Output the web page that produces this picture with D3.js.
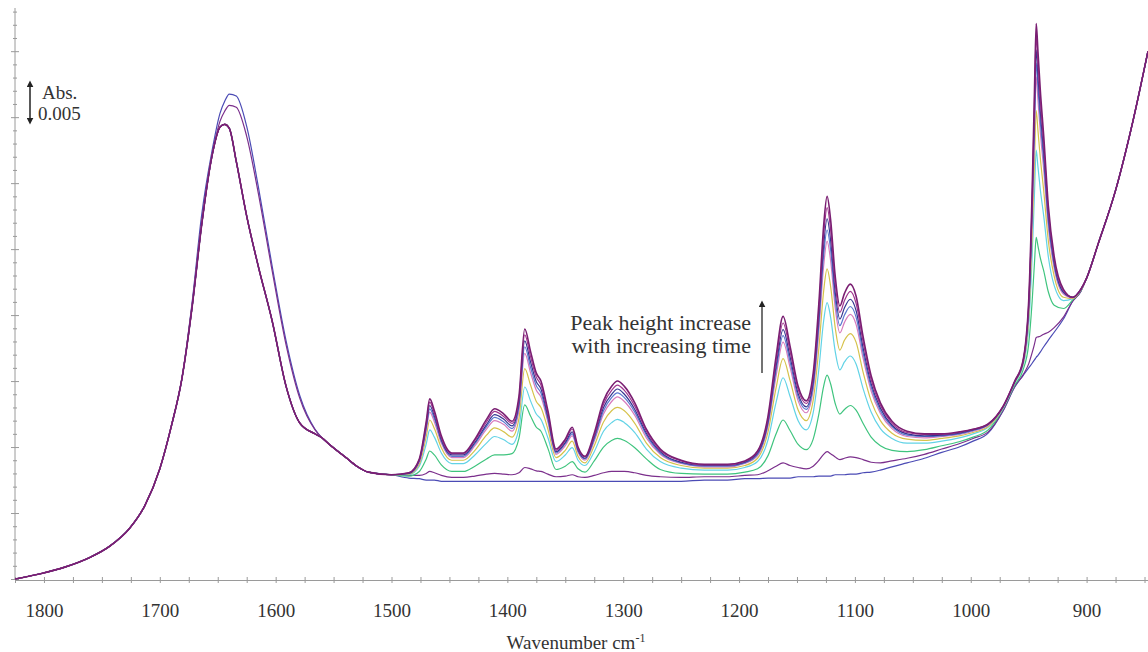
<!DOCTYPE html>
<html>
<head>
<meta charset="utf-8">
<script src="https://cdn.jsdelivr.net/npm/d3@7"></script>
<style>
  body { margin: 0; background: #fff; }
  text { font-family: "Liberation Serif", "DejaVu Serif", serif; fill: #333; }
</style>
</head>
<body>
<div id="chart"></div>
<script>
var svgWidth = 1148;
var svgHeight = 652;

// absorbance values in mAbs, wavenumbers in cm-1

// water bending band, shared by the later spectra
var waterNu = [1825, 1803, 1782, 1760, 1743, 1726, 1713, 1700, 1690, 1681, 1672, 1664, 1655, 1648,
  1644, 1640, 1634, 1625, 1615, 1603, 1591, 1579, 1566, 1560, 1553, 1540, 1530, 1520];
var waterBulk = [0.0, 0.8, 1.8, 3.3, 5.0, 7.7, 11.1, 16.7, 23.2, 30.3, 41.4, 53.5, 64.1, 68.5,
  68.9, 68.3, 63.3, 55.0, 47.4, 39.1, 29.2, 23.6, 22.0, 21.4, 20.3, 18.5, 17.1, 16.2];
var waterStart = [0.0, 0.8, 1.8, 3.3, 5.0, 7.7, 11.1, 16.7, 23.2, 30.3, 42.1, 55.0, 64.8, 70.6,
  72.4, 73.5, 73.2, 68.6, 59.5, 47.4, 36.1, 27.7, 22.7, 21.4, 20.3, 18.5, 17.1, 16.2];
var waterFirst = [0.0, 0.8, 1.8, 3.3, 5.0, 7.7, 11.1, 16.7, 23.2, 30.3, 41.8, 53.9, 64.1, 69.4,
  70.9, 71.8, 71.5, 67.1, 58.5, 46.7, 35.5, 27.3, 22.6, 21.4, 20.3, 18.5, 17.1, 16.2];

// fingerprint region where the bands grow with time
var bandNu = [1500, 1485, 1476, 1470, 1467, 1463, 1457, 1448, 1438, 1428, 1418, 1411, 1403, 1396, 1390,
  1385, 1380, 1375, 1371, 1365, 1358, 1350, 1344, 1339, 1333, 1325, 1317, 1310, 1305, 1299,
  1290, 1280, 1268, 1250, 1230, 1210, 1195, 1184, 1175, 1168, 1162, 1156, 1149, 1142, 1136,
  1131, 1127, 1124, 1121, 1117, 1113, 1109, 1104, 1099, 1093, 1086, 1078, 1068, 1055, 1040,
  1025, 1010, 998, 985, 972, 962, 955, 950, 947, 945, 943.5, 942, 940, 937, 933,
  928, 920, 912, 905];

var band0 = [15.8, 15.3, 15.2, 15.0, 15.0, 15.0, 14.8, 14.8, 14.8, 14.8, 14.8, 14.8, 14.8, 14.8, 14.8,
  14.8, 14.8, 14.8, 14.8, 14.8, 14.8, 14.8, 14.8, 14.8, 14.8, 14.8, 14.8, 14.8, 14.8, 14.8,
  14.8, 14.8, 14.8, 14.8, 15.0, 15.0, 15.2, 15.2, 15.3, 15.3, 15.3, 15.3, 15.5, 15.5, 15.5,
  15.6, 15.6, 15.6, 15.6, 15.8, 15.8, 15.8, 15.9, 15.9, 16.1, 16.2, 16.5, 17.0, 17.6, 18.3,
  19.2, 20.0, 20.9, 22.1, 25.5, 29.1, 30.8, 32.0, 32.7, 33.2, 33.6, 33.9, 34.4, 35.2, 36.2,
  37.4, 39.4, 42.1, 43.6];
var band1 = [15.8, 15.7, 15.7, 16.0, 16.3, 16.1, 15.7, 15.4, 15.4, 15.6, 15.9, 16.0, 15.9, 15.8, 16.1,
  16.9, 16.7, 16.4, 16.3, 15.9, 15.5, 15.6, 15.8, 15.5, 15.4, 15.7, 16.1, 16.3, 16.3, 16.3,
  16.1, 15.7, 15.5, 15.4, 15.5, 15.5, 15.7, 15.8, 16.4, 17.1, 17.6, 17.2, 16.9, 16.7, 17.1,
  18.0, 18.9, 19.3, 19.0, 18.5, 18.1, 18.3, 18.5, 18.4, 18.1, 17.7, 17.6, 17.9, 18.3, 18.9,
  19.7, 20.5, 21.3, 22.3, 25.6, 29.2, 30.9, 32.6, 34.3, 35.6, 36.6, 36.7, 36.8, 37.1, 37.4,
  38.1, 39.7, 42.1, 43.6];
var band2 = [15.8, 15.6, 16.3, 18.2, 19.4, 18.8, 17.3, 16.3, 16.3, 17.1, 18.2, 18.8, 18.8, 19.0, 21.3,
  26.4, 24.7, 23.0, 22.4, 19.8, 16.6, 17.1, 17.8, 16.7, 16.2, 17.9, 20.0, 21.0, 21.3, 21.0,
  19.9, 18.2, 16.6, 16.0, 15.9, 15.9, 16.2, 16.7, 18.7, 22.0, 24.1, 22.5, 20.4, 19.6, 21.2,
  25.1, 29.2, 30.9, 29.6, 26.6, 25.0, 25.7, 26.3, 25.6, 23.6, 21.5, 20.2, 19.5, 19.3, 19.6,
  20.2, 20.8, 21.5, 22.6, 25.8, 29.4, 31.6, 35.6, 42.1, 47.9, 51.8, 50.5, 48.7, 46.7, 43.5,
  41.5, 41.0, 42.3, 43.7];
var band3 = [15.8, 15.8, 17.1, 20.5, 22.6, 21.5, 19.1, 17.5, 17.5, 18.8, 20.6, 21.6, 21.1, 20.4, 22.8,
  29.1, 27.0, 25.0, 24.2, 21.4, 17.8, 18.8, 19.9, 18.0, 17.2, 19.3, 22.4, 23.7, 24.2, 23.7,
  22.2, 19.7, 17.8, 16.8, 16.5, 16.5, 16.9, 17.8, 21.1, 26.8, 30.5, 27.7, 24.0, 22.6, 25.2,
  32.0, 39.1, 41.9, 39.7, 34.5, 31.7, 32.9, 33.8, 32.6, 28.9, 25.3, 22.8, 21.3, 20.6, 20.6,
  20.9, 21.4, 22.0, 23.0, 25.9, 29.7, 32.2, 38.3, 48.9, 58.4, 65.0, 62.5, 59.1, 55.0, 48.8,
  44.5, 42.2, 42.5, 43.8];
var band4 = [15.8, 15.9, 17.4, 21.6, 24.1, 22.8, 19.9, 18.0, 18.0, 19.5, 21.8, 22.9, 22.3, 21.5, 24.3,
  31.9, 29.4, 26.9, 26.0, 22.7, 18.4, 19.5, 20.9, 18.6, 17.6, 20.2, 23.8, 25.5, 26.0, 25.5,
  23.6, 20.6, 18.4, 17.2, 16.8, 16.8, 17.2, 18.3, 22.3, 29.0, 33.4, 30.1, 25.6, 24.0, 27.1,
  35.2, 43.6, 47.0, 44.4, 38.1, 34.7, 36.2, 37.2, 35.9, 31.4, 27.0, 24.0, 22.1, 21.2, 21.0,
  21.3, 21.7, 22.2, 23.1, 26.0, 29.8, 32.4, 39.5, 52.0, 63.3, 71.0, 68.0, 63.9, 58.8, 51.2,
  45.9, 42.7, 42.5, 43.8];
var band5 = [15.8, 16.0, 17.7, 22.5, 25.3, 23.8, 20.6, 18.4, 18.4, 20.2, 22.7, 24.0, 23.4, 22.4, 25.6,
  34.2, 31.3, 28.6, 27.6, 23.8, 18.9, 20.2, 21.7, 19.2, 18.0, 20.9, 25.0, 26.9, 27.6, 26.9,
  24.8, 21.4, 18.9, 17.5, 17.0, 17.0, 17.5, 18.7, 23.2, 30.8, 35.9, 32.1, 27.0, 25.2, 28.7,
  37.9, 47.4, 51.2, 48.3, 41.1, 37.3, 38.9, 40.1, 38.6, 33.5, 28.5, 25.1, 22.8, 21.6, 21.4,
  21.6, 21.9, 22.4, 23.3, 26.1, 29.9, 32.6, 40.5, 54.6, 67.4, 76.1, 72.6, 67.8, 62.0, 53.3,
  47.1, 43.2, 42.6, 43.9];
var band6 = [15.8, 16.0, 17.9, 22.9, 25.8, 24.3, 20.9, 18.6, 18.6, 20.5, 23.1, 24.5, 23.8, 22.8, 26.2,
  35.2, 32.1, 29.3, 28.2, 24.2, 19.1, 20.5, 22.0, 19.4, 18.2, 21.2, 25.5, 27.5, 28.2, 27.5,
  25.3, 21.8, 19.1, 17.6, 17.1, 17.1, 17.6, 18.9, 23.6, 31.6, 36.9, 32.9, 27.6, 25.7, 29.3,
  39.0, 49.0, 52.9, 49.9, 42.3, 38.4, 40.0, 41.3, 39.7, 34.3, 29.1, 25.5, 23.1, 21.8, 21.6,
  21.7, 22.0, 22.5, 23.4, 26.1, 29.9, 32.7, 40.9, 55.7, 69.0, 78.2, 74.5, 69.4, 63.3, 54.1,
  47.6, 43.4, 42.7, 43.9];
var band7 = [15.8, 16.0, 18.0, 23.2, 26.3, 24.7, 21.1, 18.8, 18.8, 20.7, 23.4, 24.9, 24.2, 23.2, 26.7,
  36.1, 32.9, 29.9, 28.8, 24.6, 19.3, 20.7, 22.3, 19.6, 18.3, 21.5, 26.0, 28.0, 28.8, 28.0,
  25.7, 22.1, 19.3, 17.7, 17.2, 17.2, 17.7, 19.1, 23.9, 32.3, 37.8, 33.7, 28.1, 26.1, 29.9,
  40.0, 50.5, 54.6, 51.4, 43.5, 39.4, 41.1, 42.4, 40.7, 35.1, 29.6, 25.9, 23.3, 22.0, 21.7,
  21.8, 22.1, 22.6, 23.4, 26.1, 29.9, 32.8, 41.3, 56.7, 70.6, 80.2, 76.3, 71.0, 64.5, 54.9,
  48.0, 43.5, 42.7, 43.9];
var band8 = [15.8, 16.1, 18.1, 23.6, 26.8, 25.1, 21.4, 19.0, 19.0, 21.0, 23.8, 25.4, 24.6, 23.6, 27.2,
  37.0, 33.7, 30.6, 29.4, 25.1, 19.5, 21.0, 22.7, 19.8, 18.5, 21.8, 26.5, 28.6, 29.4, 28.6,
  26.2, 22.4, 19.5, 17.9, 17.3, 17.3, 17.8, 19.3, 24.3, 33.1, 38.8, 34.5, 28.7, 26.6, 30.6,
  41.1, 52.0, 56.3, 53.0, 44.7, 40.4, 42.2, 43.6, 41.8, 36.0, 30.2, 26.3, 23.6, 22.2, 21.9,
  21.9, 22.2, 22.7, 23.5, 26.2, 30.0, 32.9, 41.7, 57.8, 72.3, 82.2, 78.2, 72.6, 65.8, 55.7,
  48.5, 43.7, 42.7, 43.9];
var band9 = [15.8, 16.1, 18.2, 23.9, 27.3, 25.5, 21.7, 19.1, 19.1, 21.2, 24.2, 25.8, 25.0, 23.9, 27.7,
  37.9, 34.5, 31.2, 30.0, 25.5, 19.7, 21.2, 23.0, 20.0, 18.6, 22.1, 27.0, 29.2, 30.0, 29.2,
  26.7, 22.7, 19.7, 18.0, 17.4, 17.4, 17.9, 19.4, 24.7, 33.8, 39.8, 35.3, 29.2, 27.0, 31.2,
  42.1, 53.5, 58.0, 54.5, 45.9, 41.4, 43.3, 44.7, 42.9, 36.8, 30.8, 26.7, 23.9, 22.4, 22.0,
  22.0, 22.3, 22.7, 23.5, 26.2, 30.0, 33.0, 42.1, 58.8, 73.9, 84.2, 80.0, 74.2, 67.1, 56.5,
  48.9, 43.9, 42.7, 43.9];

// steep rise at the low wavenumber end, same for all spectra
var tailNu = [900, 890, 875, 860, 847];
var tailAbs = [45.6, 50.8, 58.9, 69.4, 80.0];

var bandSeries = [band0, band1, band2, band3, band4, band5, band6, band7, band8, band9];
var waterSeries = [waterStart, waterFirst, waterBulk, waterBulk, waterBulk, waterBulk, waterBulk,
  waterBulk, waterBulk, waterBulk];
var seriesColors = ["#4b4bb5", "#7b2f8c", "#3fc47e", "#62d3e6", "#d6c24a", "#d77bbd", "#5a78d0",
  "#34348f", "#a0358f", "#7a1e72"];

var xTicks = [1800, 1700, 1600, 1500, 1400, 1300, 1200, 1100, 1000, 900];

var spectra = bandSeries.map(function(band, i) {
  var pts = [];
  waterNu.forEach(function(nu, j) { pts.push({ nu: nu, a: waterSeries[i][j] }); });
  bandNu.forEach(function(nu, j) { pts.push({ nu: nu, a: band[j] }); });
  tailNu.forEach(function(nu, j) { pts.push({ nu: nu, a: tailAbs[j] }); });
  return pts;
});

var svg = d3.select("#chart")
  .append("svg")
  .attr("width", svgWidth)
  .attr("height", svgHeight);

var x = d3.scaleLinear().domain([1825, 847]).range([15, 1148]);
var y = d3.scaleLinear().domain([0, 87]).range([579, 5]);

var line = d3.line()
  .x(function(d) { return x(d.nu); })
  .y(function(d) { return y(d.a); })
  .curve(d3.curveMonotoneX);

// x axis with crossing ticks
var xAxis = svg.append("g")
  .attr("transform", "translate(0,580)")
  .call(d3.axisBottom(x)
    .tickValues(d3.range(850, 1826, 25))
    .tickSizeOuter(0)
    .tickSize(3)
    .tickPadding(21)
    .tickFormat(function(d) { return xTicks.indexOf(d) >= 0 ? d : ""; }));
xAxis.select(".domain").attr("stroke", "#9a9a9a");
xAxis.selectAll(".tick line").attr("y1", -3).attr("stroke", "#9a9a9a");
xAxis.selectAll(".tick text")
  .style("font-family", "'Liberation Serif', serif")
  .style("font-size", "19px")
  .attr("fill", "#333");

// y axis, unlabelled
var yAxis = svg.append("g")
  .attr("transform", "translate(15,0)")
  .call(d3.axisLeft(y)
    .tickValues(d3.range(0, 87, 2))
    .tickSizeOuter(0)
    .tickFormat(""));
yAxis.select(".domain").attr("stroke", "#9a9a9a").attr("d", "M0,580V8");
yAxis.selectAll(".tick line")
  .attr("stroke", "#9a9a9a")
  .attr("x1", function(d) { return d % 10 === 0 ? 4 : 2; })
  .attr("x2", function(d) { return d % 10 === 0 ? -4 : -2; });

svg.append("g")
  .selectAll("path")
  .data(spectra)
  .enter()
  .append("path")
  .attr("d", line)
  .attr("fill", "none")
  .attr("stroke", function(d, i) { return seriesColors[i]; })
  .attr("stroke-width", function(d, i) { return i === 9 ? 1.6 : 1.2; });

var defs = svg.append("defs");
defs.append("marker")
  .attr("id", "head")
  .attr("viewBox", "0 0 10 10")
  .attr("refX", 2).attr("refY", 5)
  .attr("markerUnits", "userSpaceOnUse")
  .attr("markerWidth", 7).attr("markerHeight", 7)
  .attr("orient", "auto-start-reverse")
  .append("path")
  .attr("d", "M0,0L10,5L0,10z")
  .attr("fill", "#222");

// absorbance scale bar, 0.005 Abs long
var barTop = 86;
svg.append("line")
  .attr("x1", 30).attr("x2", 30)
  .attr("y1", barTop + y(0) - y(5)).attr("y2", barTop)
  .attr("stroke", "#222").attr("stroke-width", 1.5)
  .attr("marker-start", "url(#head)")
  .attr("marker-end", "url(#head)");
svg.append("text").attr("x", 42).attr("y", 99).style("font-size", "19px").text("Abs.");
svg.append("text").attr("x", 38).attr("y", 120).style("font-size", "19px").text("0.005");

// time annotation
svg.append("text")
  .attr("x", 751).attr("y", 330)
  .attr("text-anchor", "end")
  .style("font-size", "22px")
  .text("Peak height increase");
svg.append("text")
  .attr("x", 751).attr("y", 353)
  .attr("text-anchor", "end")
  .style("font-size", "22px")
  .text("with increasing time");
svg.append("line")
  .attr("x1", 762).attr("x2", 762)
  .attr("y1", 373).attr("y2", 306)
  .attr("stroke", "#444").attr("stroke-width", 1.5)
  .attr("marker-end", "url(#head)");

var title = svg.append("text")
  .attr("x", 576).attr("y", 649)
  .attr("text-anchor", "middle")
  .style("font-size", "19px");
title.append("tspan").text("Wavenumber cm");
title.append("tspan").attr("dy", -7).style("font-size", "12px").text("-1");
</script>
</body>
</html>
